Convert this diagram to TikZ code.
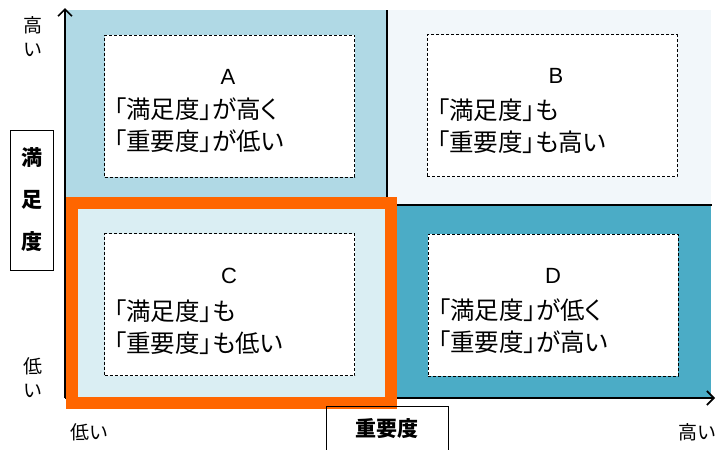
\documentclass[tikz,border=0pt]{standalone}
\usepackage{fontspec}
\setmainfont{Noto Sans CJK JP}[RawFeature=+palt]
\newfontfamily\latinf{Liberation Sans}
\usetikzlibrary{arrows.meta}
\definecolor{qa}{HTML}{B0D9E5}
\definecolor{qb}{HTML}{F2F7FA}
\definecolor{qc}{HTML}{DAEEF3}
\definecolor{qd}{HTML}{4BACC6}
\definecolor{orng}{HTML}{FF6600}
\tikzset{
  dbox/.style={draw=black,dashed,dash pattern=on 3pt off 2pt,line width=0.8pt,fill=white,minimum width=250pt,minimum height=142pt,inner sep=0pt},
  letter/.style={font=\latinf\fontsize{22}{26}\selectfont,inner sep=0pt},
  body/.style={font=\fontsize{24.5}{32}\selectfont,align=left,anchor=west,inner sep=0pt},
  axlbl/.style={font=\fontsize{19}{22}\selectfont,inner sep=0pt},
  ttl/.style={font=\fontsize{21}{24}\selectfont\bfseries,inner sep=0pt},
  divider/.style={black,line width=1.6pt},
  axis/.style={black,line width=1.6pt,-{Straight Barb[length=7pt,width=14pt,line width=1.6pt]}}
}
\begin{document}
\begin{tikzpicture}[x=1pt,y=-1pt]
\useasboundingbox (0,0) rectangle (716,450);
% quadrant fills
\fill[qa] (65,10) rectangle (387,204);
\fill[qb] (387,10) rectangle (711,205);
\fill[qd] (397,205) rectangle (711,397);
% axes
\coordinate (o) at (65,398);
\coordinate (ytop) at (65,8);
\coordinate (xend) at (715,398);
\draw[axis] (o) -- (ytop);
\draw[axis] (o) -- (xend);
% dividers
\coordinate (d1) at (387,10);
\coordinate (d2) at (387,205);
\coordinate (d3) at (712,205);
\draw[divider] (d1) -- (d2) -- (d3);
% C quadrant with orange frame
\fill[qc] (78,209) rectangle (385,397);
\draw[orng,line width=12pt] (72,203) rectangle (391,403);
% dashed boxes
\node[dbox] (boxA) at (229.5,106) {};
\node[dbox] (boxB) at (552,105.5) {};
\node[dbox] (boxC) at (229.5,304.5) {};
\node[dbox] (boxD) at (553,305) {};
% texts
\node[letter] (lA) at (228,77) {A};
\node[body] (tA) at (114,125) {「満足度」が高く\\「重要度」が低い};
\node[letter] (lB) at (556,76) {B};
\node[body] (tB) at (437,126.5) {「満足度」も\\「重要度」も高い};
\node[letter] (lC) at (229,276) {C};
\node[body] (tC) at (114,327.5) {「満足度」も\\「重要度」も低い};
\node[letter] (lD) at (553,276) {D};
\node[body] (tD) at (438,326) {「満足度」が低く\\「重要度」が高い};
% axis labels
\node[axlbl] (yh1) at (33,25) {高};
\node[axlbl] (yh2) at (33,50) {い};
\node[axlbl] (yl1) at (33,366) {低};
\node[axlbl] (yl2) at (33,391) {い};
\node[axlbl] (xl) at (89,432) {低い};
\node[axlbl] (xh) at (697,432) {高い};
% axis titles
\draw[black,line width=1pt,fill=white] (10,130) rectangle (53,270);
\node[ttl] (ys1) at (31.5,158) {満};
\node[ttl] (ys2) at (31.5,200) {足};
\node[ttl] (ys3) at (31.5,242) {度};
\draw[black,line width=1pt] (326,452) -- (326,406) -- (448,406) -- (448,452);
\node[ttl] (xs) at (387,429) {重要度};
\end{tikzpicture}
\end{document}
